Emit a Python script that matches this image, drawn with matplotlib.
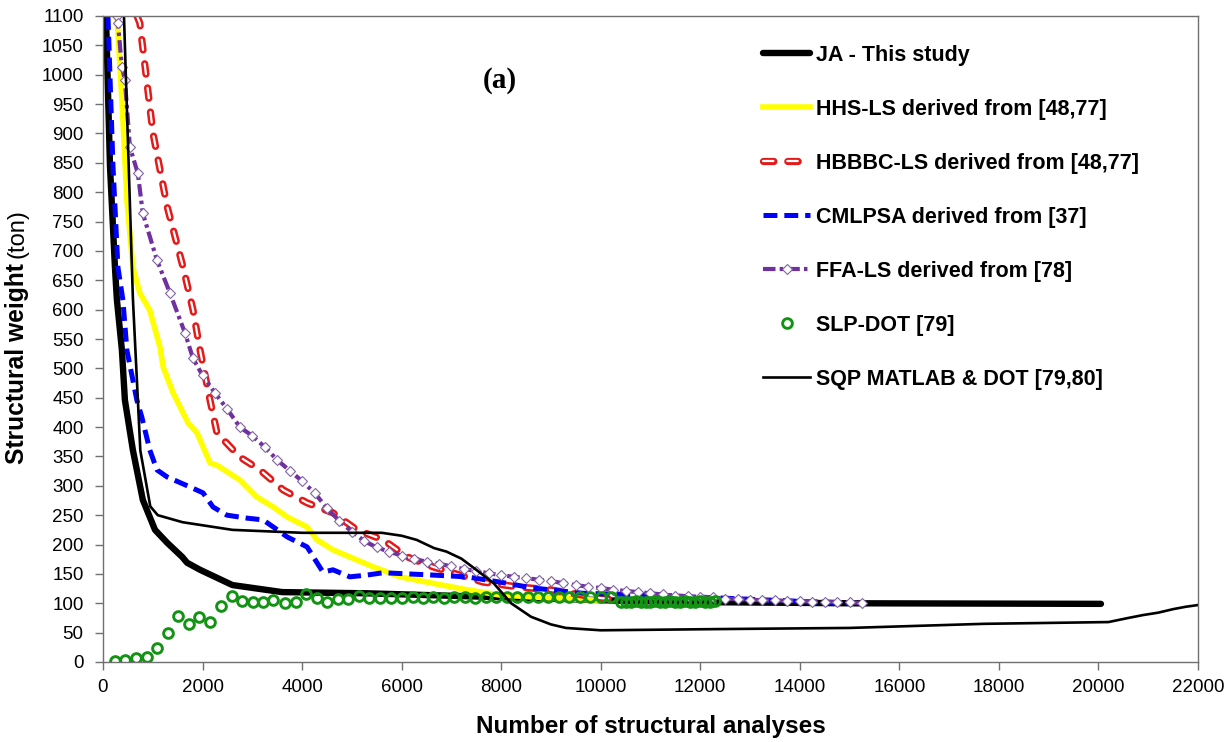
import numpy as np
import matplotlib
matplotlib.use('Agg')
import matplotlib.pyplot as plt
import matplotlib.patheffects as pe
from matplotlib import rcParams

rcParams['font.family'] = ['Liberation Sans', 'DejaVu Sans']
rcParams['lines.scale_dashes'] = False

# Data.

ja_x = [60, 140, 240, 280, 380, 440, 600, 800, 1045, 1290, 1590, 1690, 1950, 2600,
        3600, 5300, 7300, 9000, 10500, 12000, 15000, 20050]
ja_y = [1100, 845, 672, 616, 531, 446, 361, 276, 225, 203, 179, 169, 157, 131,
        119, 117, 112, 108, 104, 102, 100, 99]

hhs_x = [280, 380, 480, 600, 740, 940, 1145, 1210, 1410, 1710, 1890, 2150, 2290, 2750,
         3090, 3420, 3700, 4100, 4300, 4620, 5430, 5970, 6630, 7310, 7980, 9000, 10000]
hhs_y = [1100, 957, 787, 672, 628, 599, 536, 502, 458, 407, 390, 339, 335, 310,
         281, 264, 247, 230, 208, 191, 162, 145, 134, 123, 114, 109, 105]

hbbbc_x = [683, 740, 1005, 1290, 1610, 1810, 1950, 2150, 2290, 2750, 3155, 3620, 4100,
           4620, 5100, 5630, 6110, 6630, 7170, 7640, 8320, 8980, 9990, 10400]
hbbbc_y = [1100, 1088, 900, 775, 672, 599, 531, 446, 390, 349, 327, 293, 271,
           254, 225, 208, 179, 162, 148, 136, 128, 123, 109, 105]

cml_x = [100, 200, 300, 400, 480, 680, 780, 940, 1085, 1290, 1750, 2010, 2210, 2490,
         2890, 3215, 3420, 3700, 4100, 4300, 4420, 4620, 4960, 5300, 5630, 6630, 7310,
         7980, 8640, 9640, 10990, 14350, 15000]
cml_y = [1100, 845, 672, 616, 531, 446, 417, 361, 327, 315, 298, 288, 264, 250,
         245, 242, 230, 213, 196, 169, 153, 157, 145, 148, 152, 148, 145,
         136, 126, 117, 114, 102, 101]

ffa_x = [280, 300, 380, 440, 540, 700, 800, 1085, 1346, 1648, 1808,
         2000, 2250, 2500, 2750, 3000, 3250, 3500, 3750, 4000, 4250, 4500, 4750,
         5000, 5250, 5500, 5750, 6000, 6250, 6500, 6750, 7000, 7250, 7500, 7750,
         8000, 8250, 8500, 8750, 9000, 9250, 9500, 9750, 10000, 10250, 10500, 10750,
         11000, 11250, 11500, 11750, 12000, 12250, 12500, 12750, 13000, 13250, 13500,
         13750, 14000, 14250, 14500, 14750, 15000, 15250]
ffa_y = [1100, 1088, 1013, 991, 877, 832, 764, 684, 628, 560, 517,
         488, 458, 430, 400, 385, 366, 344, 326, 308, 288, 262, 240,
         222, 206, 195, 188, 181, 175, 171, 167, 163, 158, 155, 151,
         148, 145, 143, 140, 138, 134, 131, 128, 126, 123, 121, 119,
         117, 115, 113, 112, 111, 110, 108, 107, 106, 105, 105,
         104, 104, 103, 103, 102, 102, 100]

slp_x = [241, 442, 663, 884, 1085, 1306, 1507, 1728, 1929, 2150, 2371, 2592, 2793, 3014,
         3215, 3416, 3657, 3878, 4079, 4300, 4501, 4722, 4923, 5144, 5345, 5566, 5787,
         6008, 6220, 6430, 6640, 6850, 7060, 7270, 7480, 7690, 7900, 8110, 8320, 8530,
         8740, 8950, 9160, 9370, 9580, 9790, 10000, 10210,
         10400, 10500, 10600, 10700, 10800, 10900, 11000, 11100, 11200, 11300, 11400,
         11500, 11600, 11700, 11800, 11900, 12000, 12100, 12200, 12300]
slp_y = [1, 4, 7, 9, 24, 50, 78, 65, 77, 68, 95, 112, 104, 102,
         102, 106, 100, 102, 116, 109, 102, 107, 107, 112, 109, 109, 109,
         109, 110, 109, 110, 109, 111, 110, 109, 110, 110, 110, 111, 110,
         110, 111, 110, 111, 110, 111, 111, 110,
         103, 102, 103, 104, 103, 102, 103, 104, 103, 103, 104,
         103, 103, 104, 103, 103, 104, 103, 103, 104]

sqp_x = [410, 600, 750, 950, 1100, 1600, 2600, 4000, 5600, 6000, 6300, 6650, 6900,
         7200, 7500, 7850, 8200, 8600, 9000, 9300, 10000, 12300, 15000, 17700, 20200,
         20600, 20900, 21200, 21500, 21750, 22000]
sqp_y = [1130, 620, 360, 265, 250, 238, 225, 220, 220, 215, 208, 194, 188,
         176, 157, 134, 100, 77, 64, 58, 54, 56, 58, 65, 68,
         75, 80, 84, 90, 94, 97]

labels = ['JA - This study', 'HHS-LS derived from [48,77]', 'HBBBC-LS derived from [48,77]',
          'CMLPSA derived from [37]', 'FFA-LS derived from [78]', 'SLP-DOT [79]',
          'SQP MATLAB & DOT [79,80]']

x_ticks = list(range(0, 22001, 2000))
y_ticks = list(range(0, 1101, 50))

# Plot.

fig = plt.figure(figsize=(12.29, 7.42), dpi=100)
ax = fig.add_axes([103 / 1229, 80 / 742, 1095 / 1229, 646 / 742])

ax.plot(ja_x, ja_y, color='black', lw=4.6, solid_capstyle='round', label=labels[0])
ax.plot(hhs_x, hhs_y, color='#FFFF00', lw=4.0, label=labels[1])
ax.plot(hbbbc_x, hbbbc_y, color='white', lw=1.6, dashes=(7.5, 10),
        dash_capstyle='round', label=labels[2],
        path_effects=[pe.Stroke(linewidth=5.2, foreground='#E41A1A'), pe.Normal()])
ax.plot(cml_x, cml_y, color='#0000FF', lw=3.6, dashes=(10, 5), label=labels[3])
ax.plot(ffa_x, ffa_y, color='#7030A0', lw=3.0, dashes=(9, 3, 2.5, 3),
        marker='D', markersize=4.6, markerfacecolor='white', markeredgecolor='#8064A2',
        markeredgewidth=0.8, label=labels[4])
ax.plot(slp_x, slp_y, linestyle='none', marker='o', markersize=7, markerfacecolor='none',
        markeredgecolor='#139313', markeredgewidth=2.1, label=labels[5])
ax.plot(sqp_x, sqp_y, color='black', lw=1.9, label=labels[6])

ax.set_xlim(0, 22000)
ax.set_ylim(0, 1100)
ax.set_xticks(x_ticks)
ax.set_yticks(y_ticks)
ax.tick_params(direction='out', length=6, width=1, color='#707070', labelsize=13.5)
ax.tick_params(axis='y', pad=8)
ax.tick_params(axis='x', pad=6)
for spine in ax.spines.values():
    spine.set_color('#707070')
    spine.set_linewidth(1.0)

ax.set_xlabel('Number of structural analyses', fontsize=17.5, fontweight='bold', labelpad=14)
fig.text(17 / 1229, 1 - 464 / 742, 'Structural weight', rotation=90, fontsize=17.7,
         fontweight='bold', ha='center', va='bottom')
fig.text(17 / 1229, 1 - 258 / 742, '(ton)', rotation=90, fontsize=17,
         ha='center', va='bottom')

ax.text(500 / 1229, 1 - 80 / 742, '(a)', transform=fig.transFigure, fontsize=21,
        fontweight='bold', family='Liberation Serif', ha='center', va='center')

ax.legend(loc='upper left', bbox_to_anchor=(763 / 1229, 1 - 45 / 742),
          bbox_transform=fig.transFigure, frameon=False,
          prop={'weight': 'bold', 'size': 15.5}, handlelength=2.2, handletextpad=0.25,
          labelspacing=1.53, borderpad=0, borderaxespad=0, numpoints=1)

plt.savefig('out.png', dpi=100)
